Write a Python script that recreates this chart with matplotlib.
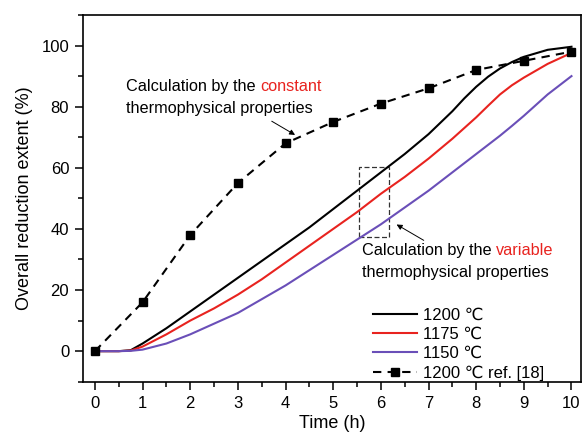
import matplotlib
matplotlib.use("Agg")
import matplotlib.pyplot as plt
from matplotlib.ticker import MultipleLocator
from matplotlib.patches import Rectangle

plt.rcParams['font.family'] = ['Liberation Sans', 'DejaVu Sans']

t_sim = [0, 0.5, 0.75, 1, 1.5, 2, 2.5, 3, 3.5, 4, 4.5, 5, 5.5, 6, 6.5, 7, 7.5, 7.75, 8, 8.25, 8.5, 8.75, 9, 9.5, 10]
y_1200 = [0, 0, 0.3, 2.5, 7.5, 13, 18.5, 24, 29.5, 35, 40.5, 46.5, 52.5, 58.5, 64.5, 71, 78.5, 82.7, 86.5, 89.8, 92.5, 94.6, 96.3, 98.6, 99.6]
y_1175 = [0, 0, 0.2, 1.5, 5.5, 10, 14, 18.5, 23.5, 29, 34.5, 40, 45.5, 51.5, 57, 63, 69.5, 73, 76.5, 80.3, 84, 87, 89.5, 94, 97.6]
y_1150 = [0, 0, 0.1, 0.5, 2.5, 5.5, 9, 12.5, 17, 21.5, 26.5, 31.5, 36.5, 41.5, 47, 52.5, 58.5, 61.5, 64.5, 67.5, 70.5, 73.7, 77, 84, 90]

t_ref = [0, 1, 2, 3, 4, 5, 6, 7, 8, 9, 10]
y_ref = [0, 16, 38, 55, 68, 75, 81, 86, 92, 95, 98]

labels = ['1200 \u2103', '1175 \u2103', '1150 \u2103', '1200 \u2103 ref. [18]']

fig = plt.figure(figsize=(5.83, 4.38), dpi=100)
ax = fig.add_axes([0.1424, 0.1285, 0.8542, 0.8373])

ax.plot(t_sim, y_1200, color='black', lw=1.5, label=labels[0])
ax.plot(t_sim, y_1175, color='#e8231f', lw=1.5, label=labels[1])
ax.plot(t_sim, y_1150, color='#6a4fb8', lw=1.5, label=labels[2])
ax.plot(t_ref, y_ref, color='black', lw=1.5, ls=(0, (4, 3)), marker='s', ms=6, label=labels[3])

ax.set_xlim(-0.25, 10.2)
ax.set_ylim(-10, 110)
ax.xaxis.set_major_locator(MultipleLocator(1))
ax.xaxis.set_minor_locator(MultipleLocator(0.5))
ax.yaxis.set_major_locator(MultipleLocator(20))
ax.yaxis.set_minor_locator(MultipleLocator(10))
ax.tick_params(which='major', direction='out', length=6, width=1.1, labelsize=12, pad=4)
ax.tick_params(which='minor', direction='out', length=3.5, width=1.1)
for s in ax.spines.values():
    s.set_linewidth(1.2)

ax.set_xlabel('Time (h)', fontsize=13, labelpad=3)
ax.set_ylabel('Overall reduction extent (%)', fontsize=13, labelpad=6)

# annotation 1
fs = 11.7
t1 = ax.text(0.65, 84.2, 'Calculation by the ', fontsize=fs, va='bottom', ha='left')
ax.annotate('constant', xy=(1, 0), xycoords=t1, va='bottom', ha='left', fontsize=fs, color='#e8231f')
ax.text(0.65, 77.0, 'thermophysical properties', fontsize=fs, va='bottom', ha='left')
ax.annotate('', xy=(4.25, 70.3), xytext=(3.66, 75.7),
            arrowprops=dict(arrowstyle='-|>', color='black', lw=0.7, mutation_scale=8))

# annotation 2
t2 = ax.text(5.6, 30.5, 'Calculation by the ', fontsize=fs, va='bottom', ha='left')
ax.annotate('variable', xy=(1, 0), xycoords=t2, va='bottom', ha='left', fontsize=fs, color='#e8231f')
ax.text(5.6, 23.3, 'thermophysical properties', fontsize=fs, va='bottom', ha='left')
ax.annotate('', xy=(6.28, 41.9), xytext=(6.95, 35.8),
            arrowprops=dict(arrowstyle='-|>', color='black', lw=0.7, mutation_scale=8))
ax.add_patch(Rectangle((5.55, 37.5), 0.63, 22.9, fill=False, ls=(0, (4, 2)), lw=0.9, ec='#333333'))

leg = ax.legend(loc='lower right', bbox_to_anchor=(0.94, -0.015), frameon=False, fontsize=12,
                handlelength=2.6, handletextpad=0.4, labelspacing=0.25, borderaxespad=0.0)

fig.savefig('out.png', dpi=100)
